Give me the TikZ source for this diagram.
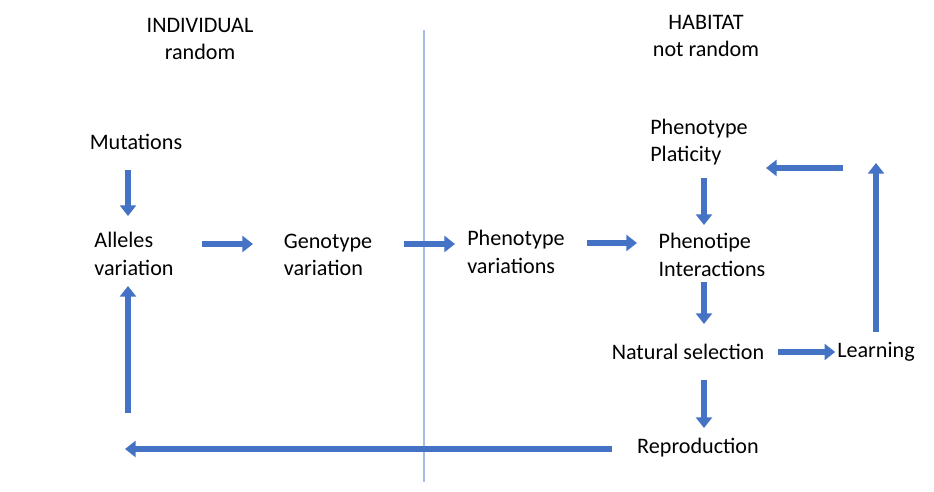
\documentclass[tikz,border=0pt]{standalone}
\usepackage{fontspec}
\setmainfont{Carlito}
\usetikzlibrary{arrows.meta}
\definecolor{arrblue}{HTML}{4472C4}
\definecolor{lineblue}{HTML}{A9BEE6}
\begin{document}
\begin{tikzpicture}[x=0.02cm,y=-0.02cm,
  lbl/.style={font=\fontsize{12.6}{15.5}\selectfont,align=center,inner sep=1pt},
  arr/.style={draw=arrblue,line width=3.6pt,-{Triangle[length=6pt,width=9pt]}}]
\useasboundingbox (0,0) rectangle (934,492);
\draw[lineblue,line width=1pt] (424,30) -- (424,482);
\node[lbl] (ind) at (200,39) {INDIVIDUAL\\random};
\node[lbl] (hab) at (706,36) {HABITAT\\not random};
\node[lbl] (mut) at (136,142) {Mutations};
\node[lbl,align=left] (all) at (134,254) {Alleles\\variation};
\node[lbl,align=left] (gen) at (328,255) {Genotype\\variation};
\node[lbl,align=left] (phv) at (516,252) {Phenotype\\variations};
\node[lbl,align=left] (phi) at (712,255) {Phenotipe\\Interactions};
\node[lbl,align=left] (php) at (699,142) {Phenotype\\Platicity};
\node[lbl] (nat) at (688,352) {Natural selection};
\node[lbl] (lea) at (876,352) {Learning};
\node[lbl] (rep) at (698,448) {Reproduction};
\coordinate (repend) at (125,449);
\coordinate (allstart) at (128,413);
\coordinate (leaend) at (876,163);
\coordinate (phpstart) at (843,168);
\draw[arr] (128,170) -- (128,216);
\draw[arr] (202,244) -- (253,244);
\draw[arr] (404,244) -- (455,244);
\draw[arr] (587,243) -- (637,243);
\draw[arr] (704,178) -- (704,225);
\draw[arr] (704,282) -- (704,324);
\draw[arr] (778,352) -- (lea.west);
\draw[arr] (704,380) -- (704,428);
\draw[arr] (612,449) -- (repend);
\draw[arr] (allstart) -- (128,286);
\draw[arr] (876,332) -- (leaend);
\draw[arr] (phpstart) -- (766,168);
\end{tikzpicture}
\end{document}
